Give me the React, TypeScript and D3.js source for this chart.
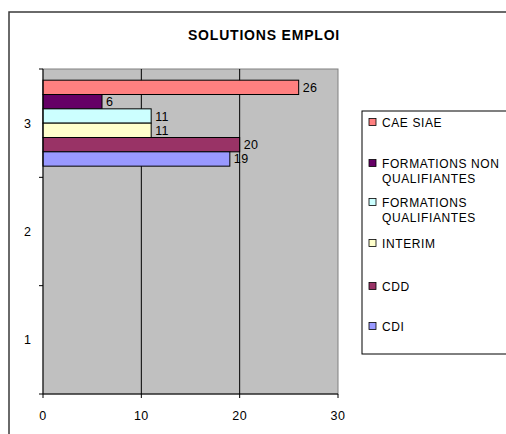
import * as d3 from "d3";

const categories = ["1", "2", "3"];
const seriesNames = [
  "CAE SIAE",
  "FORMATIONS NON QUALIFIANTES",
  "FORMATIONS QUALIFIANTES",
  "INTERIM",
  "CDD",
  "CDI",
];
// legend lines (as wrapped in the original)
const legendLines = [
  ["CAE SIAE"],
  ["FORMATIONS NON", "QUALIFIANTES"],
  ["FORMATIONS", "QUALIFIANTES"],
  ["INTERIM"],
  ["CDD"],
  ["CDI"],
];
// values per category 1, 2, 3 (only 3 has data)
const caeSiae = [null, null, 26];
const formationsNonQual = [null, null, 6];
const formationsQual = [null, null, 11];
const interim = [null, null, 11];
const cdd = [null, null, 20];
const cdi = [null, null, 19];
const seriesValues: (number | null)[][] = [caeSiae, formationsNonQual, formationsQual, interim, cdd, cdi];
const seriesColors = ["#FF8080", "#660066", "#CCFFFF", "#FFFFCC", "#993366", "#9999FF"];
const xTicks = [0, 10, 20, 30];

const FONT = "'Liberation Sans', Arial, sans-serif";

export default function App() {
  const width = 506;
  const height = 434;
  const plot = { left: 43, right: 338, top: 69, bottom: 394 };

  const x = d3.scaleLinear().domain([0, 30]).range([plot.left, plot.right]);
  const y = d3
    .scaleBand<string>()
    .domain([...categories].reverse())
    .range([plot.top, plot.bottom])
    .padding(0);
  const inner = d3
    .scaleBand<string>()
    .domain(seriesNames)
    .range([0, y.bandwidth()])
    .paddingInner(0)
    .paddingOuter(0.78);

  const legendX = 362;
  const legendTop = 111;
  const legendRows = [122, 163, 202, 243, 286, 326];

  return (
    <svg
      width={width}
      height={height}
      style={{ position: "absolute", left: 0, top: 0, background: "#fff", fontFamily: FONT }}
    >
      {/* chart frame */}
      <rect x={9} y={12} width={520} height={440} fill="#fff" stroke="#3a3a3a" strokeWidth={1.5} />

      <text x={264} y={40} textAnchor="middle" fontSize={14} fontWeight="bold" letterSpacing={0.8} fill="#000">
        SOLUTIONS EMPLOI
      </text>

      {/* plot area */}
      <rect
        x={plot.left}
        y={plot.top}
        width={plot.right - plot.left}
        height={plot.bottom - plot.top}
        fill="#C0C0C0"
        stroke="#808080"
        strokeWidth={1}
      />
      {xTicks.slice(1, -1).map((t) => (
        <line key={t} x1={x(t)} x2={x(t)} y1={plot.top} y2={plot.bottom} stroke="#000" strokeWidth={1} />
      ))}

      {/* bars */}
      {categories.map((c, ci) =>
        seriesNames.map((s, si) => {
          const v = seriesValues[si][ci];
          if (v == null) return null;
          const by = (y(c) ?? 0) + (inner(s) ?? 0);
          const bh = inner.bandwidth();
          return (
            <g key={c + s}>
              <rect
                x={x(0)}
                y={by}
                width={x(v) - x(0)}
                height={bh}
                fill={seriesColors[si]}
                stroke="#000"
                strokeWidth={1}
              />
              <text x={x(v) + 4} y={by + bh / 2 + 4.5} fontSize={12.5} letterSpacing={0.4} fill="#000">
                {v}
              </text>
            </g>
          );
        })
      )}

      {/* axes */}
      <line x1={plot.left} x2={plot.left} y1={plot.top} y2={plot.bottom} stroke="#000" />
      <line x1={plot.left} x2={plot.right} y1={plot.bottom} y2={plot.bottom} stroke="#000" />
      {[...categories.map((c) => y(c) ?? 0), plot.bottom].map((ty, i) => (
        <line key={i} x1={plot.left - 4} x2={plot.left} y1={ty} y2={ty} stroke="#000" />
      ))}
      {categories.map((c) => (
        <text
          key={c}
          x={31}
          y={(y(c) ?? 0) + y.bandwidth() / 2 + 4.5}
          textAnchor="end"
          fontSize={12.5}
          fill="#000"
        >
          {c}
        </text>
      ))}
      {xTicks.map((t) => (
        <g key={t}>
          <line x1={x(t)} x2={x(t)} y1={plot.bottom} y2={plot.bottom + 4} stroke="#000" />
          <text x={x(t)} y={420} textAnchor="middle" fontSize={12.5} letterSpacing={0.5} fill="#000">
            {t}
          </text>
        </g>
      ))}

      {/* legend */}
      <rect x={legendX} y={legendTop} width={160} height={243} fill="#fff" stroke="#000" strokeWidth={1} />
      {legendLines.map((lines, i) => (
        <g key={i}>
          <rect
            x={369}
            y={legendRows[i] - 3.5}
            width={7}
            height={7}
            fill={seriesColors[i]}
            stroke="#000"
            strokeWidth={0.8}
          />
          {lines.map((ln, j) => (
            <text key={j} x={382} y={legendRows[i] + 4.5 + j * 15} fontSize={12} letterSpacing={0.6} fill="#000">
              {ln}
            </text>
          ))}
        </g>
      ))}
    </svg>
  );
}
